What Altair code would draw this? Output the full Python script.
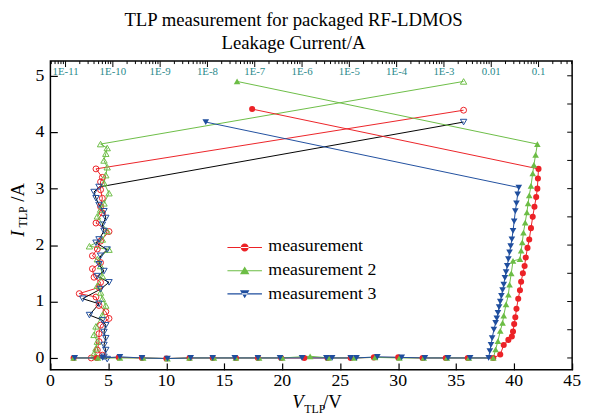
import altair as alt
import pandas as pd

SERIF = "Liberation Serif"
SERIES = ["measurement", "measurement 2", "measurement 3"]
COLORS = ["#ec2227", "#6cbd45", "#1f4e9e"]
OPEN_LINE_COLORS = ["#ec2227", "#6cbd45", "#000000"]
SHAPES = ["circle", "triangle-up", "triangle-down"]
TEAL = "#2b8a8c"

# ---- filled series: V_TLP (V) vs I_TLP (A)
red_v = [2.0, 4.0, 5.9, 7.9, 10.0, 12.0, 14.0, 16.0, 17.9, 19.9, 21.9, 23.9, 25.9, 27.9, 30.0, 32.1, 34.1, 36.0, 38.2,
         38.8, 39.1, 39.5, 39.8, 39.9, 40.0, 40.1, 40.2, 40.35, 40.5, 40.6, 40.75, 40.9, 41.0, 41.15, 41.3, 41.45, 41.6,
         41.75, 41.9, 42.0, 42.05, 42.1, 17.4]
red_i = [0.0, 0.0, 0.01, 0.0, -0.01, 0.0, 0.0, 0.0, 0.0, 0.0, 0.0, 0.0, 0.0, 0.01, 0.01, 0.0, 0.0, 0.0, 0.0,
         0.06, 0.23, 0.32, 0.38, 0.47, 0.6, 0.72, 0.87, 1.05, 1.2, 1.35, 1.5, 1.63, 1.78, 1.95, 2.1, 2.3, 2.5,
         2.68, 2.85, 3.0, 3.18, 3.35, 4.41]
green_v = [2.0, 4.1, 6.0, 8.0, 10.1, 12.0, 14.1, 16.0, 18.0, 20.0, 22.4, 24.0, 26.2, 28.0, 30.1, 32.2, 34.2, 36.1, 38.2,
           38.4, 38.6, 38.8, 39.0, 39.1, 39.3, 39.5, 39.6, 39.75, 39.9, 40.5, 40.6, 40.7, 40.8, 40.95, 41.1, 41.2, 41.3,
           41.45, 41.6, 41.7, 41.85, 42.0, 16.1]
green_i = [0.0, 0.0, 0.0, 0.0, -0.01, 0.0, 0.0, 0.0, 0.0, 0.0, 0.03, 0.0, 0.0, 0.01, 0.0, 0.0, 0.0, 0.0, 0.0,
           0.15, 0.3, 0.48, 0.62, 0.75, 0.95, 1.12, 1.3, 1.5, 1.72, 1.75, 1.9, 2.05, 2.22, 2.4, 2.58, 2.74, 2.88,
           3.05, 3.27, 3.42, 3.6, 3.79, 4.9]
blue_v = [2.1, 4.5, 6.0, 7.9, 10.1, 12.1, 14.0, 15.9, 17.9, 19.8, 21.7, 23.8, 24.3, 25.9, 26.4, 28.2, 30.3, 32.3, 34.3,
          36.2, 37.8, 37.9, 38.0, 38.1, 38.25, 38.4, 38.5, 38.6, 38.7, 38.8, 38.9, 39.0, 39.1, 39.2, 39.3, 39.4, 39.5,
          39.6, 39.7, 39.8, 39.9, 40.0, 40.1, 40.2, 40.3, 40.4, 13.4]
blue_i = [0.0, 0.0, 0.02, 0.0, -0.01, 0.0, 0.0, 0.0, 0.0, 0.0, 0.0, 0.0, 0.0, 0.0, 0.0, 0.02, 0.01, 0.0, 0.0,
          0.0, 0.0, 0.12, 0.23, 0.35, 0.5, 0.62, 0.7, 0.8, 0.9, 1.0, 1.1, 1.2, 1.3, 1.42, 1.52, 1.63, 1.75,
          1.87, 1.98, 2.1, 2.25, 2.42, 2.6, 2.74, 2.9, 3.02, 4.18]

# ---- open series: leakage current (A) vs I_TLP (A)
red_leak = [3.5e-11, 6.0e-11, 4.7e-11, 5.1e-11, 5.1e-11, 5.5e-11, 8.3e-11, 7.1e-11, 5.1e-11, 4.4e-11, 1.95e-11,
            5.1e-11, 5.5e-11, 4.0e-11, 3.7e-11, 5.5e-11, 3.7e-11, 4.7e-11, 5.5e-11, 8.3e-11, 4.4e-11, 6.0e-11,
            5.5e-11, 6.0e-11, 5.5e-11, 5.5e-11, 6.0e-11, 4.4e-11, 2.6e-3]
red_oi = [0.0, 0.05, 0.14, 0.29, 0.43, 0.58, 0.7, 0.82, 0.93, 1.08, 1.14, 1.25, 1.34, 1.43, 1.58, 1.69, 1.81,
          1.93, 2.07, 2.24, 2.39, 2.57, 2.68, 2.83, 2.98, 3.12, 3.2, 3.35, 4.39]
green_leak = [4.4e-11, 4.0e-11, 4.4e-11, 4.7e-11, 4.0e-11, 4.4e-11, 6.0e-11, 7.1e-11, 6.0e-11, 5.5e-11, 4.7e-11,
              6.0e-11, 5.5e-11, 4.7e-11, 8.3e-11, 3.2e-11, 6.0e-11, 7.6e-11, 4.7e-11, 5.5e-11, 6.5e-11, 8.3e-11,
              6.5e-11, 7.1e-11, 7.6e-11, 6.5e-11, 7.1e-11, 7.6e-11, 5.5e-11, 2.6e-3]
green_oi = [0.02, 0.08, 0.17, 0.29, 0.41, 0.56, 0.76, 0.93, 1.05, 1.16, 1.28, 1.45, 1.63, 1.75, 1.92, 1.98, 2.1,
            2.25, 2.51, 2.63, 2.74, 2.92, 3.1, 3.24, 3.38, 3.5, 3.62, 3.72, 3.79, 4.9]
blue_leak = [7.6e-11, 6.5e-11, 7.1e-11, 6.5e-11, 7.1e-11, 6.5e-11, 7.1e-11, 6.0e-11, 3.2e-11, 5.1e-11, 2.3e-11,
             5.5e-11, 8.3e-11, 4.7e-11, 6.5e-11, 5.1e-11, 5.5e-11, 7.6e-11, 4.4e-11, 5.1e-11, 6.5e-11, 6.0e-11,
             7.1e-11, 6.5e-11, 5.1e-11, 4.4e-11, 4.0e-11, 5.1e-11, 2.6e-3]
blue_oi = [-0.02, 0.02, 0.14, 0.23, 0.35, 0.46, 0.58, 0.67, 0.76, 0.96, 1.05, 1.22, 1.34, 1.45, 1.54, 1.66, 1.81,
           1.92, 2.04, 2.1, 2.25, 2.36, 2.48, 2.6, 2.71, 2.83, 2.94, 3.03, 4.18]

# axis tick values and labels
V_TICKS = [0, 5, 10, 15, 20, 25, 30, 35, 40, 45]
V_LABELS = ["0", "5", "10", "15", "20", "25", "30", "35", "40", "45"]
I_TICKS = [0, 1, 2, 3, 4, 5]
I_LABELS = ["0", "1", "2", "3", "4", "5"]
RIGHT_TICKS = [0, 0.5, 1, 1.5, 2, 2.5, 3, 3.5, 4, 4.5, 5]
DECADES = [1e-11, 1e-10, 1e-9, 1e-8, 1e-7, 1e-6, 1e-5, 1e-4, 1e-3, 1e-2, 1e-1]
DECADE_LABELS = ["1E-11", "1E-10", "1E-9", "1E-8", "1E-7", "1E-6", "1E-5", "1E-4", "1E-3", "0.01", "0.1"]
LEAK_DOMAIN = [10 ** -11.32, 10 ** -0.29]
MINOR = [m * d for d in [1e-12] + DECADES for m in range(2, 10) if LEAK_DOMAIN[0] <= m * d <= LEAK_DOMAIN[1]]

W, H = 529, 313

filled = [(red_v, red_i), (green_v, green_i), (blue_v, blue_i)]
opened = [(red_leak, red_oi), (green_leak, green_oi), (blue_leak, blue_oi)]

V_SCALE = alt.Scale(domain=[0, 45], nice=False, zero=False)
L_SCALE = alt.Scale(type="log", domain=LEAK_DOMAIN, nice=False)
I_SCALE = alt.Scale(domain=[-0.21, 5.26], nice=False, zero=False)

xV = alt.X("V:Q", scale=V_SCALE,
           axis=alt.Axis(orient="bottom", values=V_TICKS, title=None, domain=False, grid=False, labels=False,
                         tickSize=7, offset=-7, tickColor="black", tickWidth=1.2))
xV_na = alt.X("V:Q", scale=V_SCALE, axis=None)
yI = alt.Y("I:Q", scale=I_SCALE,
           axis=alt.Axis(values=I_TICKS, title=None, domain=False, grid=False, labels=False, tickSize=7,
                         offset=-7, tickColor="black", tickWidth=1.2))
xL_na = alt.X("leak:Q", scale=L_SCALE, axis=None)

layers = []
# open (leakage) series
for k, (ll, ii) in enumerate(opened):
    df = pd.DataFrame({"leak": ll, "I": ii, "order": range(len(ll))})
    layers.append(alt.Chart(df).mark_line(color=OPEN_LINE_COLORS[k], strokeWidth=1).encode(
        x=xL_na, y=yI, order="order:Q"))
for k, (ll, ii) in enumerate(opened):
    df = pd.DataFrame({"leak": ll, "I": ii})
    layers.append(alt.Chart(df).mark_point(shape=SHAPES[k], filled=False, color=COLORS[k],
                                           size=36 if k == 0 else 42, strokeWidth=1, opacity=1).encode(
        x=xL_na, y=yI))
# top (leakage) axis: inward ticks and labels
layers.append(alt.Chart(pd.DataFrame({"leak": DECADES})).mark_rule(color="black", strokeWidth=1).encode(
    x=xL_na, y=alt.value(0), y2=alt.value(6)))
layers.append(alt.Chart(pd.DataFrame({"leak": MINOR})).mark_rule(color="black", strokeWidth=1).encode(
    x=xL_na, y=alt.value(0), y2=alt.value(3)))
layers.append(alt.Chart(pd.DataFrame({"leak": DECADES, "t": DECADE_LABELS})).mark_text(
    font=SERIF, fontSize=11, color=TEAL, align="center", baseline="middle").encode(
    x=xL_na, y=alt.value(11), text="t:N"))

# filled (voltage) series
for k, (vv, ii) in enumerate(filled):
    df = pd.DataFrame({"V": vv, "I": ii, "order": range(len(vv))})
    layers.append(alt.Chart(df).mark_line(color=COLORS[k], strokeWidth=1).encode(
        x=xV_na, y=yI, order="order:Q"))
for k, (vv, ii) in enumerate(filled):
    df = pd.DataFrame({"V": vv, "I": ii})
    layers.append(alt.Chart(df).mark_point(shape=SHAPES[k], filled=True, color=COLORS[k],
                                           size=38 if k == 0 else 45, opacity=1).encode(
        x=xV if k == 0 else xV_na, y=yI))
# bottom axis labels
layers.append(alt.Chart(pd.DataFrame({"V": V_TICKS, "t": V_LABELS})).mark_text(
    font=SERIF, fontSize=18, color="black", align="center", baseline="middle").encode(
    x=xV_na, y=alt.value(H + 11), text="t:N"))
# left axis labels
layers.append(alt.Chart(pd.DataFrame({"I": I_TICKS, "t": I_LABELS})).mark_text(
    font=SERIF, fontSize=18, color="black", align="right", baseline="middle").encode(
    y=yI, x=alt.value(-6), text="t:N"))

# right side ticks (inward)
layers.append(alt.Chart(pd.DataFrame({"I": RIGHT_TICKS})).mark_rule(color="black", strokeWidth=1).encode(
    y=yI, x=alt.value(W - 5), x2=alt.value(W)))

# legend symbols (legend from explicit scale domain, no visible data); labels drawn as text below
LEG_PATHS = [
    "M-2,-0.06H2V0.06H-2Z M-0.46,0A0.46,0.46 0 1,0 0.46,0A0.46,0.46 0 1,0 -0.46,0Z",
    "M-2,-0.06H2V0.06H-2Z M0,-0.5L0.55,0.42L-0.55,0.42Z",
    "M-2,-0.06H2V0.06H-2Z M0,0.5L0.55,-0.42L-0.55,-0.42Z",
]
LEG = dict(title=None, orient="none", legendX=188, legendY=180, padding=0,
           symbolSize=306, symbolStrokeWidth=0, rowPadding=6.5, labelOffset=15,
           labelFontSize=17, labelExpr="''")
layers.append(alt.Chart(pd.DataFrame({"series": SERIES})).transform_filter("false").mark_point(
    filled=True, opacity=1).encode(
    color=alt.Color("series:N", scale=alt.Scale(domain=SERIES, range=COLORS), legend=alt.Legend(**LEG)),
    shape=alt.Shape("series:N", scale=alt.Scale(domain=SERIES, range=LEG_PATHS), legend=alt.Legend(**LEG)),
))


def label(txt, x, y, size, italic=False, angle=0, align="center"):
    return alt.Chart(pd.DataFrame({"t": [txt]})).mark_text(
        font=SERIF, fontSize=size, fontStyle="italic" if italic else "normal", color="black",
        angle=angle, align=align, baseline="middle").encode(
        text="t:N", x=alt.value(x), y=alt.value(y))


layers += [
    label(SERIES[0], 221, 188, 18, align="left"),
    label(SERIES[1], 221, 212, 18, align="left"),
    label(SERIES[2], 221, 236, 18, align="left"),
    label("I", -33, 175, 19, italic=True, angle=270),
    label("TLP", -28, 158, 12, angle=270),
    label("/A", -33, 133, 19, angle=270),
    label("V", 251, 346, 19, italic=True),
    label("TLP", 268, 353, 12),
    label("/V", 286, 346, 19),
]

chart = alt.layer(*layers).resolve_scale(x="independent").resolve_axis(x="independent").properties(
    width=W, height=H,
    title=alt.TitleParams(text=["TLP measurement for packaged RF-LDMOS", "Leakage Current/A"],
                          font=SERIF, fontSize=19, fontWeight="normal", color="black", anchor="middle",
                          dx=-18, offset=8, lineHeight=23),
    autosize=alt.AutoSizeParams(type="none"),
    padding={"left": 43, "top": 51, "right": 10, "bottom": 45},
).configure(background="white").configure_view(stroke="black", strokeWidth=1.5)

chart.save("out.html", embed_options={"renderer": "svg", "actions": False})
